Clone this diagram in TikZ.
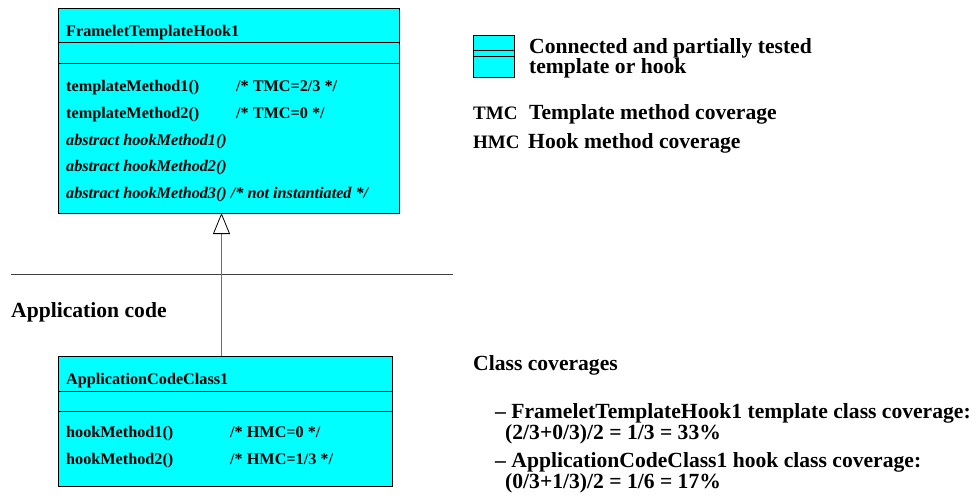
\documentclass[tikz,border=0pt]{standalone}
\usepackage{fontspec}
\setmainfont{Liberation Serif}
\usetikzlibrary{arrows.meta}
\definecolor{classcyan}{RGB}{0,255,255}
\definecolor{linkgray}{RGB}{112,112,112}
\definecolor{rulegray}{RGB}{64,64,64}
\tikzset{
  classbox/.style={draw=black, line width=1pt, fill=classcyan, rectangle, inner sep=0pt},
  member/.style={anchor=base west, inner sep=0pt, font=\fontsize{16.2}{16.2}\selectfont\bfseries},
  absmember/.style={member, font=\fontsize{16.2}{16.2}\selectfont\bfseries\itshape},
  label/.style={anchor=base west, inner sep=0pt, align=left,
    font=\fontsize{21.6}{17.6}\selectfont\bfseries},
  abbrev/.style={anchor=base west, inner sep=0pt, font=\fontsize{19}{19}\selectfont\bfseries},
  inherit/.style={draw=linkgray, line width=1.5pt,
    -{Triangle[length=21pt,width=17pt,fill=white,color=black,line width=0.8pt]}},
}
\begin{document}
\begin{tikzpicture}[x=1pt,y=-1pt]
\useasboundingbox (0,0) rectangle (979,503);

% framework class
\node[classbox, minimum width=341pt, minimum height=204pt] (fth) at (228.5,111) {};
\draw[line width=1pt] (58,43) -- (399,43) (58,64) -- (399,64);
\node[member] (fthname) at (66,37) {FrameletTemplateHook1};
\node[member] (tm1) at (66,92) {templateMethod1()};
\node[member] (tm1c) at (236,92) {/* TMC=2/3 */};
\node[member] (tm2) at (66,118.5) {templateMethod2()};
\node[member] (tm2c) at (236,118.5) {/* TMC=0 */};
\node[absmember] (hm1) at (66,145) {abstract hookMethod1()};
\node[absmember] (hm2) at (66,171.5) {abstract hookMethod2()};
\node[absmember] (hm3) at (66,198) {abstract hookMethod3() /* not instantiated */};

% framework / application boundary
\draw[rulegray, line width=1pt] (11,274) -- (453,274);
\node[label] (appcode) at (11,317) {Application code};

% application class
\node[classbox, minimum width=334pt, minimum height=130pt] (acc) at (225,421) {};
\draw[line width=1pt] (58,391) -- (392,391) (58,411) -- (392,411);
\node[member] (accname) at (66,384) {ApplicationCodeClass1};
\node[member] (ahm1) at (66,437) {hookMethod1()};
\node[member] (ahm1c) at (230,437) {/* HMC=0 */};
\node[member] (ahm2) at (66,464) {hookMethod2()};
\node[member] (ahm2c) at (230,464) {/* HMC=1/3 */};

% generalization
\draw[inherit] (acc.north -| 221.5,0) -- (221.5,213);

% legend (multi-line labels are anchored on their last baseline)
\node[classbox, minimum width=41pt, minimum height=41pt] (icon) at (493.5,56.5) {};
\draw[line width=1pt] (icon.west |- 0,50.7) -- (icon.east |- 0,50.7)
                      (icon.west |- 0,56.7) -- (icon.east |- 0,56.7);
\node[label] (lg) at (529,74) {Connected and partially tested\\template or hook};
\node[abbrev] (tmc) at (473,119) {TMC};
\node[label] (tmcd) at (529,119) {Template method coverage};
\node[abbrev] (hmc) at (473,148) {HMC};
\node[label] (hmcd) at (528,148) {Hook method coverage};

% coverage summary
\node[label] (cc) at (473,370) {Class coverages};
\node[label] (cc1) at (495,439.5) {– FrameletTemplateHook1 template class coverage:\\
  \hspace*{10pt}(2/3+0/3)/2 = 1/3 = 33\%};
\node[label] (cc2) at (495,488) {– ApplicationCodeClass1 hook class coverage:\\
  \hspace*{10pt}(0/3+1/3)/2 = 1/6 = 17\%};
\end{tikzpicture}
\end{document}
